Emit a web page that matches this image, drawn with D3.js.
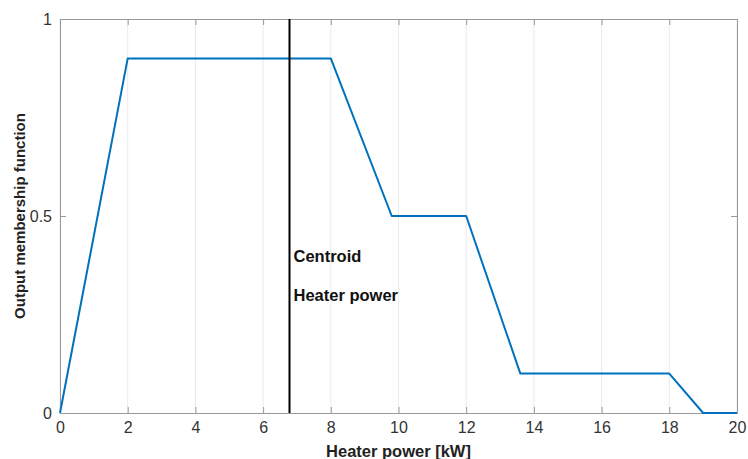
<!DOCTYPE html>
<html>
<head>
<meta charset="utf-8">
<script src="https://cdn.jsdelivr.net/npm/d3@7"></script>
<style>
  body { margin: 0; background: #fff; }
  svg { font-family: "Liberation Sans", Arial, sans-serif; }
  .tick text { fill: #333; font-size: 16px; }
</style>
</head>
<body>
<svg id="chart"></svg>
<script>
// membership curve (kW, degree)
const powerKW = [0, 2, 8, 9.8, 12, 13.6, 18, 19, 20];
const membership = [0, 0.9, 0.9, 0.5, 0.5, 0.1, 0.1, 0, 0];
const centroidKW = 6.78;
const xTicks = [0, 2, 4, 6, 8, 10, 12, 14, 16, 18, 20];
const yTicks = [0, 0.5, 1];
const notes = ["Centroid", "Heater power"];

const W = 748, H = 459;
const margin = {top: 19, right: 11, bottom: 46, left: 60};
const width = W - margin.left - margin.right;
const height = H - margin.top - margin.bottom;

const svg = d3.select('#chart').attr('width', W).attr('height', H);
const g = svg.append('g').attr('transform', `translate(${margin.left},${margin.top})`);

const x = d3.scaleLinear().domain([0, 20]).range([0, width]);
const y = d3.scaleLinear().domain([0, 1]).range([height, 0]);

// vertical grid
g.append('g')
  .selectAll('line')
  .data(xTicks)
  .join('line')
  .attr('x1', d => x(d)).attr('x2', d => x(d))
  .attr('y1', 0).attr('y2', height)
  .attr('stroke', '#ebebeb').attr('stroke-width', 1);

// axes
const xAxis = g.append('g')
  .attr('transform', `translate(0,${height})`)
  .call(d3.axisBottom(x).tickValues(xTicks).tickSizeInner(-6).tickSizeOuter(0).tickPadding(9));
const xTop = g.append('g')
  .call(d3.axisTop(x).tickValues(xTicks).tickSizeInner(-6).tickSizeOuter(0).tickFormat(''));
const yAxis = g.append('g')
  .call(d3.axisLeft(y).tickValues(yTicks).tickFormat(d3.format('')).tickSizeInner(-6).tickSizeOuter(0).tickPadding(8));
const yRight = g.append('g')
  .attr('transform', `translate(${width},0)`)
  .call(d3.axisRight(y).tickValues(yTicks).tickSizeInner(-6).tickSizeOuter(0).tickFormat(''));

[xAxis, xTop, yAxis, yRight].forEach(a => {
  a.selectAll('.domain').attr('stroke', '#999');
  a.selectAll('.tick line').attr('stroke', '#999');
});

// curve
const line = d3.line().x(d => x(d[0])).y(d => y(d[1]));
g.append('path')
  .datum(powerKW.map((p, i) => [p, membership[i]]))
  .attr('d', line)
  .attr('fill', 'none')
  .attr('stroke', '#0072BD')
  .attr('stroke-width', 2)
  .attr('stroke-linejoin', 'round');

// centroid
g.append('line')
  .attr('x1', x(centroidKW)).attr('x2', x(centroidKW))
  .attr('y1', 0).attr('y2', height)
  .attr('stroke', '#000').attr('stroke-width', 2);

g.selectAll('.note')
  .data(notes)
  .join('text')
  .attr('class', 'note')
  .attr('x', x(centroidKW) + 4)
  .attr('y', (d, i) => y(0.39) + i * 39 + 3)
  .attr('font-size', 16.5)
  .attr('font-weight', 'bold')
  .attr('fill', '#111')
  .text(d => d);

// labels
svg.append('text')
  .attr('x', margin.left + width / 2)
  .attr('y', H - 2)
  .attr('text-anchor', 'middle')
  .attr('font-size', 16.5)
  .attr('font-weight', 'bold')
  .attr('fill', '#222')
  .text('Heater power [kW]');

svg.append('text')
  .attr('transform', `translate(25,${margin.top + height / 2}) rotate(-90)`)
  .attr('text-anchor', 'middle')
  .attr('font-size', 15)
  .attr('font-weight', 'bold')
  .attr('fill', '#222')
  .text('Output membership function');
</script>
</body>
</html>
